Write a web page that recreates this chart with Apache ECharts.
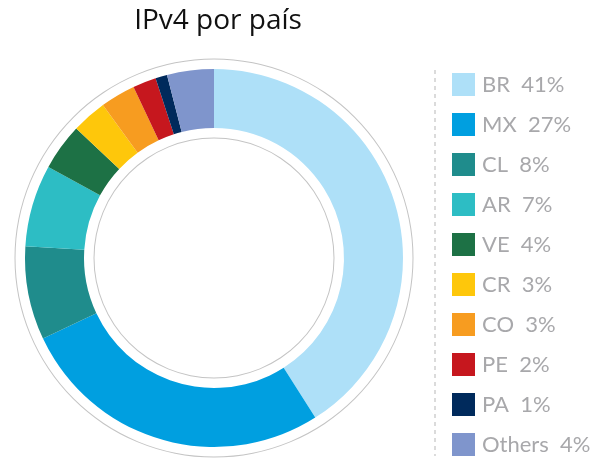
<!DOCTYPE html>
<html>
<head>
<meta charset="utf-8">
<script src="https://cdn.jsdelivr.net/npm/echarts@6/dist/echarts.min.js"></script>
<style>
  html, body { margin: 0; padding: 0; background: #fff; }
  #chart { width: 616px; height: 462px; }
</style>
</head>
<body>
<div id="chart"></div>
<script>
// == Data ====================================================================
const countries = ['BR', 'MX', 'CL', 'AR', 'VE', 'CR', 'CO', 'PE', 'PA', 'Others']
const shares = [41, 27, 8, 7, 4, 3, 3, 2, 1, 4]
const colors = ['#aee0f8', '#009fe0', '#1f8c8c', '#2dbdc4', '#1d7145',
  '#fec70b', '#f79c20', '#c6171e', '#002a5c', '#7f95cc']

const center = [214, 258]

const option = {
  animation: false,
  title: {
    text: 'IPv4 por país',
    left: 213,
    top: 2,
    textAlign: 'center',
    textStyle: { fontFamily: 'Open Sans', fontSize: 28, fontWeight: 'normal', color: '#111' }
  },
  color: colors,
  legend: {
    orient: 'vertical',
    left: 452,
    top: 73,
    height: 400,
    padding: 0,
    itemWidth: 23,
    itemHeight: 23,
    itemGap: 17,
    icon: 'rect',
    data: countries,
    formatter: name => name + '  ' + shares[countries.indexOf(name)] + '%',
    textStyle: { fontFamily: 'Lato', fontSize: 22, color: '#a8a8ab', padding: [0, 0, 0, 2] }
  },
  graphic: [{
    type: 'line',
    shape: { x1: 435, y1: 70, x2: 435, y2: 456 },
    style: { stroke: '#c4c4c4', lineWidth: 1.2, lineDash: [4, 4] }
  }],
  series: [
    {
      // outer grey ring
      type: 'pie', silent: true, center, radius: [198.5, 199.5],
      label: { show: false }, labelLine: { show: false },
      itemStyle: { color: '#c4c4c4' },
      data: [{ name: 'ring-outer', value: 1 }]
    },
    {
      // inner grey ring
      type: 'pie', silent: true, center, radius: [119.5, 120.5],
      label: { show: false }, labelLine: { show: false },
      itemStyle: { color: '#c4c4c4' },
      data: [{ name: 'ring-inner', value: 1 }]
    },
    {
      type: 'pie',
      center,
      radius: [130, 189],
      startAngle: 90,
      clockwise: true,
      label: { show: false },
      labelLine: { show: false },
      emphasis: { disabled: true },
      data: countries.map((c, i) => ({ name: c, value: shares[i] }))
    }
  ]
}

echarts.init(document.getElementById('chart')).setOption(option)
</script>
</body>
</html>
